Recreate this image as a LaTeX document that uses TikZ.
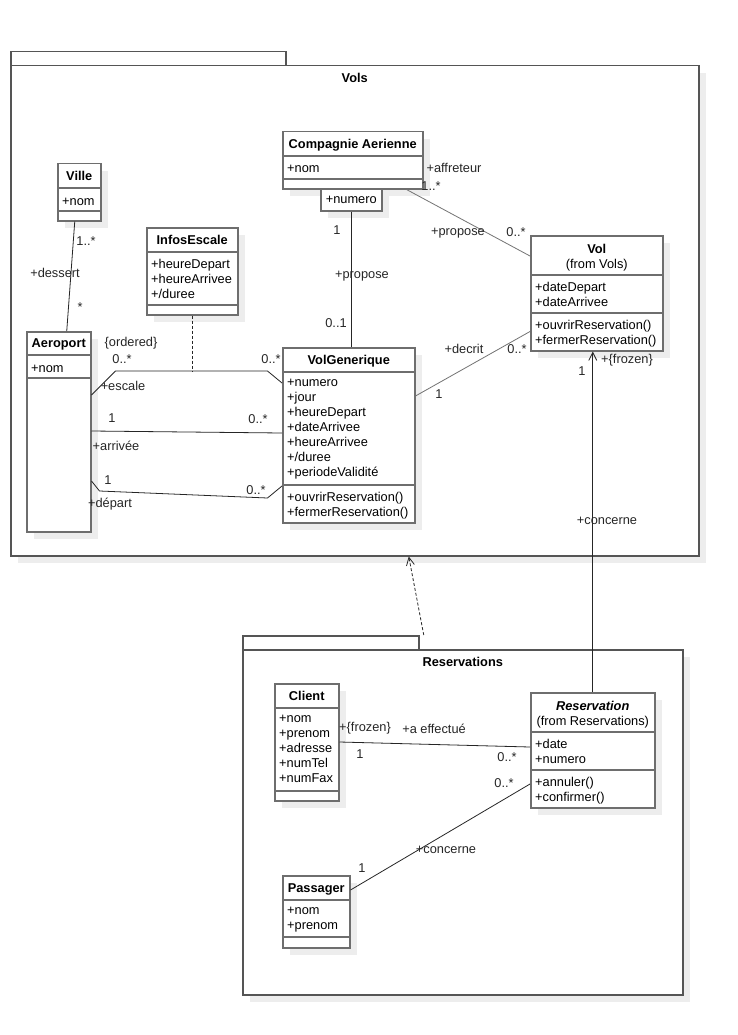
\documentclass[tikz,border=0pt]{standalone}
\usepackage{fontspec}
\setmainfont{Liberation Sans}
\usetikzlibrary{arrows.meta,shadows}

\definecolor{clsline}{HTML}{6E6E6E}
\definecolor{pkgline}{HTML}{555555}
\definecolor{shadowgray}{HTML}{EDEDED}

\newcommand\umlfont{\fontsize{12.8}{15}\selectfont}

\tikzset{
    boxshadow/.style={drop shadow={shadow xshift=7pt, shadow yshift=-7pt, fill=shadowgray, opacity=1}},
    cls/.style={draw=clsline, line width=1.5pt, fill=white, anchor=north west, inner sep=0pt, boxshadow},
    pkg/.style={draw=pkgline, line width=1.5pt, fill=white, anchor=north west, inner sep=0pt},
    clssep/.style={draw=clsline, line width=1.5pt},
    hd/.style={anchor=north, inner sep=0pt, align=center, font=\umlfont\bfseries, execute at begin node=\strut},
    hdfrom/.style={anchor=north, inner sep=0pt, align=center, execute at begin node=\strut},
    attrs/.style={anchor=north west, inner sep=0pt, align=left, execute at begin node=\strut},
    lbl/.style={inner sep=0pt, text=black!85},
    conn/.style={draw=black!85, line width=0.8pt},
    conngray/.style={draw=black!55, line width=0.8pt},
    openarrow/.style={-{Straight Barb[length=8pt,width=8pt]}}
}

\begin{document}
\begin{tikzpicture}[x=1pt,y=-1pt,font=\umlfont]
            \useasboundingbox[fill=white] (0,0) rectangle (738,1035);

            \node[pkg, minimum width=275, minimum height=14] (volstab) at (10,51) {};
            \node[pkg, boxshadow, minimum width=688, minimum height=490] (vols) at (10,65) {};
            \node[hd] (volsname) at ([yshift=-7pt]vols.north) {Vols};

            \node[pkg, minimum width=176, minimum height=14] (resatab) at (242,635) {};
            \node[pkg, boxshadow, minimum width=440, minimum height=345] (resapkg) at (242,649) {};
            \node[hd] (resaname) at ([yshift=-6.5pt]resapkg.north) {Reservations};

            \node[cls, minimum width=43, minimum height=57] (ville) at (57,163) {};
            \draw[clssep] ([yshift=-25pt]ville.north west) -- ([yshift=-25pt]ville.north east);
            \draw[clssep] ([yshift=-48pt]ville.north west) -- ([yshift=-48pt]ville.north east);
            \node[hd] (villename) at ([yshift=-6.5pt]ville.north) {Ville};
            \node[attrs] (villeattr) at ([xshift=5pt,yshift=-32pt]ville.north west) {+nom};

            \node[cls, minimum width=91, minimum height=87] (infos) at (146,227) {};
            \draw[clssep] ([yshift=-25pt]infos.north west) -- ([yshift=-25pt]infos.north east);
            \draw[clssep] ([yshift=-78pt]infos.north west) -- ([yshift=-78pt]infos.north east);
            \node[hd] (infosname) at ([yshift=-6.5pt]infos.north) {InfosEscale};
            \node[attrs] (infosattr) at ([xshift=5pt,yshift=-32pt]infos.north west) {+heureDepart\\+heureArrivee\\+/duree};

            \node[cls, minimum width=140, minimum height=57] (cie) at (282,131) {};
            \draw[clssep] ([yshift=-25pt]cie.north west) -- ([yshift=-25pt]cie.north east);
            \draw[clssep] ([yshift=-48pt]cie.north west) -- ([yshift=-48pt]cie.north east);
            \node[hd] (ciename) at ([yshift=-7pt]cie.north) {Compagnie Aerienne};
            \node[attrs] (cieattr) at ([xshift=5pt,yshift=-31pt]cie.north west) {+nom};
            \node[cls, minimum width=61, minimum height=22] (num) at (320,188) {};
            \node[inner sep=0pt] (numtxt) at (num.center) {+numero};

            \node[cls, minimum width=132, minimum height=115] (vol) at (530,235) {};
            \draw[clssep] ([yshift=-40pt]vol.north west) -- ([yshift=-40pt]vol.north east);
            \draw[clssep] ([yshift=-78pt]vol.north west) -- ([yshift=-78pt]vol.north east);
            \node[hdfrom] (volname) at ([yshift=-9pt]vol.north) {\textbf{Vol}\\(from Vols)};
            \node[attrs] (volattr) at ([xshift=5pt,yshift=-47pt]vol.north west) {+dateDepart\\+dateArrivee};
            \node[attrs] (volops) at ([xshift=5pt,yshift=-85pt]vol.north west) {+ouvrirReservation()\\+fermerReservation()};

            \node[cls, minimum width=64, minimum height=200] (aero) at (26,331) {};
            \draw[clssep] ([yshift=-24pt]aero.north west) -- ([yshift=-24pt]aero.north east);
            \draw[clssep] ([yshift=-47pt]aero.north west) -- ([yshift=-47pt]aero.north east);
            \node[hd] (aeroname) at ([yshift=-6pt]aero.north) {Aeroport};
            \node[attrs] (aeroattr) at ([xshift=5pt,yshift=-31pt]aero.north west) {+nom};

            \node[cls, minimum width=132, minimum height=175] (vg) at (282,347) {};
            \draw[clssep] ([yshift=-25pt]vg.north west) -- ([yshift=-25pt]vg.north east);
            \draw[clssep] ([yshift=-138pt]vg.north west) -- ([yshift=-138pt]vg.north east);
            \node[hd] (vgname) at ([yshift=-6.5pt]vg.north) {VolGenerique};
            \node[attrs] (vgattr) at ([xshift=5pt,yshift=-32pt]vg.north west) {+numero\\+jour\\+heureDepart\\+dateArrivee\\+heureArrivee\\+/duree\\+periodeValidité};
            \node[attrs] (vgops) at ([xshift=5pt,yshift=-145pt]vg.north west) {+ouvrirReservation()\\+fermerReservation()};

            \node[cls, minimum width=64, minimum height=117] (client) at (274,683) {};
            \draw[clssep] ([yshift=-25pt]client.north west) -- ([yshift=-25pt]client.north east);
            \draw[clssep] ([yshift=-108pt]client.north west) -- ([yshift=-108pt]client.north east);
            \node[hd] (clientname) at ([yshift=-6.5pt]client.north) {Client};
            \node[attrs] (clientattr) at ([xshift=5pt,yshift=-32pt]client.north west) {+nom\\+prenom\\+adresse\\+numTel\\+numFax};

            \node[cls, minimum width=124, minimum height=115] (resa) at (530,692) {};
            \draw[clssep] ([yshift=-40pt]resa.north west) -- ([yshift=-40pt]resa.north east);
            \draw[clssep] ([yshift=-78pt]resa.north west) -- ([yshift=-78pt]resa.north east);
            \node[hdfrom] (resaclsname) at ([yshift=-9pt]resa.north) {\textbf{\textit{Reservation}}\\(from Reservations)};
            \node[attrs] (resaattr) at ([xshift=5pt,yshift=-47pt]resa.north west) {+date\\+numero};
            \node[attrs] (resaops) at ([xshift=5pt,yshift=-85pt]resa.north west) {+annuler()\\+confirmer()};

            \node[cls, minimum width=67, minimum height=72] (pass) at (282,875) {};
            \draw[clssep] ([yshift=-25pt]pass.north west) -- ([yshift=-25pt]pass.north east);
            \draw[clssep] ([yshift=-62pt]pass.north west) -- ([yshift=-62pt]pass.north east);
            \node[hd] (passname) at ([yshift=-6.5pt]pass.north) {Passager};
            \node[attrs] (passattr) at ([xshift=5pt,yshift=-32pt]pass.north west) {+nom\\+prenom};

            \draw[conn] ([xshift=-4.5pt]ville.south) -- ([xshift=8pt]aero.north);
            \node[lbl] (dessertmin) at (86,241) {1..*};
            \node[lbl] (dessert) at (55,272.5) {+dessert};
            \node[lbl] (dessertmax) at (80,307) {*};

            \draw[conn] (num.south) -- (num.south |- vg.north);
            \node[lbl] (propose1) at (337,230) {1};
            \node[lbl] (propose) at (362,276.5) {+propose};
            \node[lbl] (propose01) at (336,323) {0..1};

            \draw[conngray] ([xshift=-17pt]cie.south east) -- ([yshift=-21pt]vol.north west);
            \node[lbl] (affreteur) at (454,168) {+affreteur};
            \node[lbl] (affreteurm) at (431,186) {1..*};
            \node[lbl] (proposevol) at (458,233.5) {+propose};
            \node[lbl] (proposevolm) at (516,232) {0..*};

            \draw[conngray] ([yshift=-49pt]vg.north east) -- ([yshift=20pt]vol.south west);
            \node[lbl] (decrit) at (464,349) {+decrit};
            \node[lbl] (decritm) at (517,349) {0..*};
            \node[lbl] (decrit1) at (439,394) {1};

            \draw[conn] ([yshift=-64pt]aero.north east) -- ++(24,-24) coordinate (esc) -- ++(152,0) -- ([yshift=-36pt]vg.north west);
            \draw[conn, dash pattern=on 3pt off 2pt] (infos.south) -- (infos.south |- esc);
            \node[lbl] (ordered) at (131,343) {\{ordered\}};
            \node[lbl] (escalem) at (122,359) {0..*};
            \node[lbl] (escale) at (123,386) {+escale};
            \node[lbl] (escalevg) at (271,359) {0..*};

            \draw[conn] ([yshift=-100pt]aero.north east) -- ([yshift=-86pt]vg.north west);
            \node[lbl] (arrivee1) at (112,418) {1};
            \node[lbl] (arriveem) at (258,419) {0..*};
            \node[lbl] (arrivee) at (116,446) {+arrivée};

            \draw[conn] ([yshift=-150pt]aero.north east) -- ++(8,10) -- ++(168,7) -- ([yshift=-139pt]vg.north west);
            \node[lbl] (depart1) at (108,480) {1};
            \node[lbl] (departm) at (256,490) {0..*};
            \node[lbl] (depart) at (110,504) {+départ};

            \draw[conn, openarrow] (resa.north) -- (resa.north |- vol.south);
            \node[lbl] (frozenvol) at (627,360) {+\{frozen\}};
            \node[lbl] (concerne1) at (582,371) {1};
            \node[lbl] (concernevol) at (607,521) {+concerne};

            \draw[conn, openarrow, dash pattern=on 3pt off 2pt] ([xshift=-39pt,yshift=14pt]resapkg.north) -- ([xshift=54pt]vols.south);

            \draw[conn] ([yshift=-59pt]client.north east) -- ([yshift=-55pt]resa.north west);
            \node[lbl] (frozenclient) at (365,728) {+\{frozen\}};
            \node[lbl] (effectue) at (434,729) {+a effectué};
            \node[lbl] (effectue1) at (360,754) {1};
            \node[lbl] (effectuem) at (507,757) {0..*};

            \draw[conn] ([yshift=-15pt]pass.north east) -- ([yshift=-92pt]resa.north west);
            \node[lbl] (concernepass1) at (362,868) {1};
            \node[lbl] (concernepass) at (446,850) {+concerne};
            \node[lbl] (concernepassm) at (504,783) {0..*};
        \end{tikzpicture}
\end{document}
